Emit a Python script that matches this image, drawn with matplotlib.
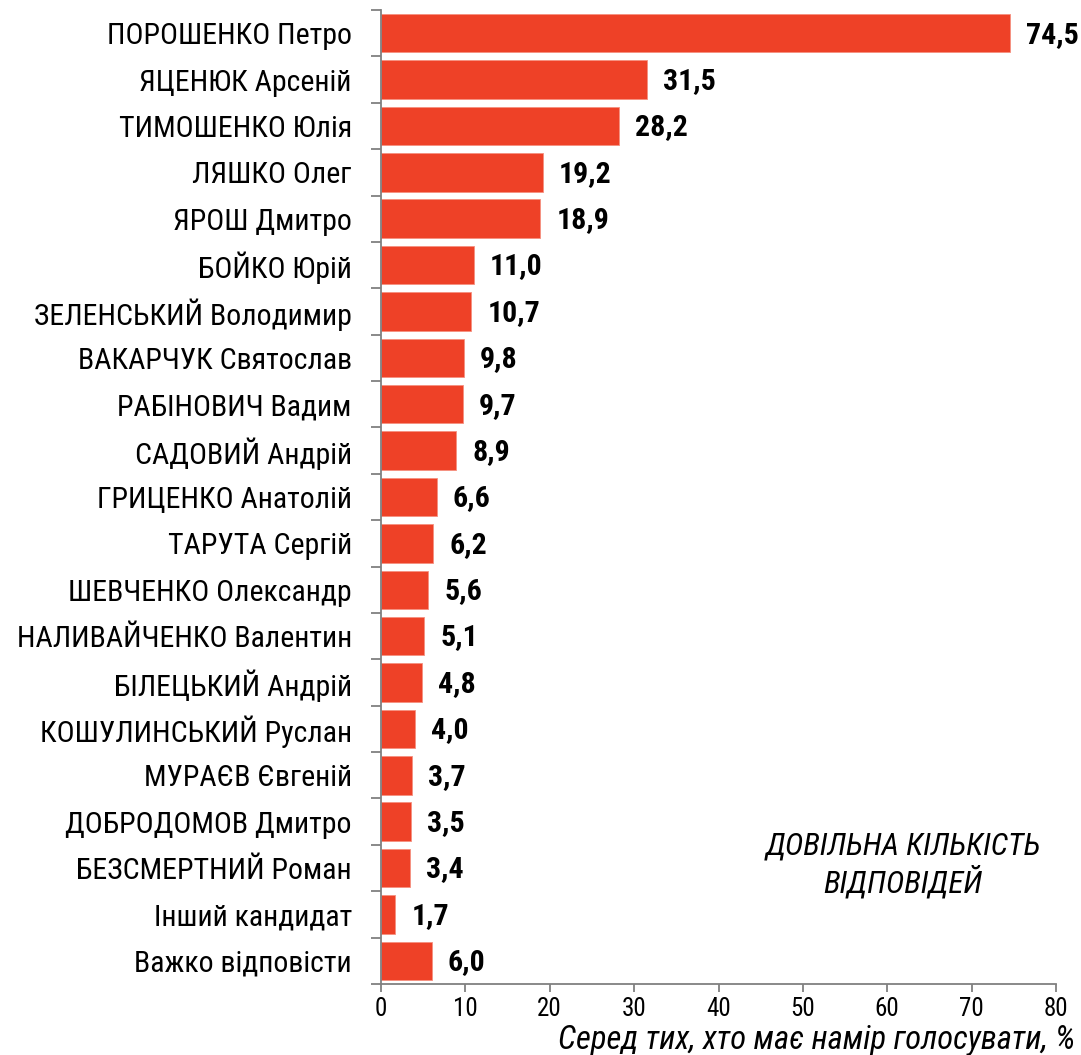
import matplotlib.pyplot as plt

names = ["ПОРОШЕНКО Петро", "ЯЦЕНЮК Арсеній", "ТИМОШЕНКО Юлія", "ЛЯШКО Олег",
         "ЯРОШ Дмитро", "БОЙКО Юрій", "ЗЕЛЕНСЬКИЙ Володимир", "ВАКАРЧУК Святослав",
         "РАБІНОВИЧ Вадим", "САДОВИЙ Андрій", "ГРИЦЕНКО Анатолій", "ТАРУТА Сергій",
         "ШЕВЧЕНКО Олександр", "НАЛИВАЙЧЕНКО Валентин", "БІЛЕЦЬКИЙ Андрій",
         "КОШУЛИНСЬКИЙ Руслан", "МУРАЄВ Євгеній", "ДОБРОДОМОВ Дмитро",
         "БЕЗСМЕРТНИЙ Роман", "Інший кандидат", "Важко відповісти"]
values = [74.5, 31.5, 28.2, 19.2, 18.9, 11.0, 10.7, 9.8, 9.7, 8.9, 6.6, 6.2,
          5.6, 5.1, 4.8, 4.0, 3.7, 3.5, 3.4, 1.7, 6.0]
xticks = [0, 10, 20, 30, 40, 50, 60, 70, 80]

# вузький шрифт, схожий на Arial Narrow
plt.rcParams['font.family'] = ['Roboto Condensed', 'DejaVu Sans']

fig = plt.figure(figsize=(10.81, 10.55), dpi=100)
ax = fig.add_axes([381 / 1081, 1 - 984 / 1055, (1056 - 381) / 1081, (984 - 10) / 1055])

n = len(names)
ypos = list(range(n))
ax.barh(ypos, values, height=0.83, color='#EE4127', edgecolor='#F5907F', linewidth=0.6)
for y, v in zip(ypos, values):
    ax.text(v + 1.9, y + 0.03, f"{v:.1f}".replace('.', ','), va='center', ha='left',
            fontsize=21.5, fontweight='bold')

ax.set_ylim(n - 0.5, -0.5)
ax.set_xlim(0, 80)
# риски між категоріями, підписи по центру смуг
ax.set_yticks([i - 0.5 for i in range(n + 1)])
ax.set_yticklabels([])
ax.set_yticks(ypos, minor=True)
ax.set_yticklabels(names, minor=True, fontsize=21.5, va='center_baseline')
ax.tick_params(axis='y', which='minor', length=0, pad=21)
ax.tick_params(axis='y', which='major', length=7, color='#808080', width=1.3)
ax.set_xticks(xticks)
ax.set_xticklabels([str(t) for t in xticks], fontsize=18)
ax.tick_params(axis='x', length=6, color='#808080', width=1.3, pad=3)

for s in ['top', 'right']:
    ax.spines[s].set_visible(False)
for s in ['left', 'bottom']:
    ax.spines[s].set_color('#808080')
    ax.spines[s].set_linewidth(1.3)

fig.text(1075 / 1081, 1 - 1040 / 1055, "Серед тих, хто має намір голосувати, %",
         ha='right', va='center', fontsize=23.5, style='italic')
fig.text(903 / 1081, 1 - 865 / 1055, "ДОВІЛЬНА КІЛЬКІСТЬ\nВІДПОВІДЕЙ",
         ha='center', va='center', fontsize=22.5, style='italic', linespacing=1.2)

fig.savefig("out.png", dpi=100)
